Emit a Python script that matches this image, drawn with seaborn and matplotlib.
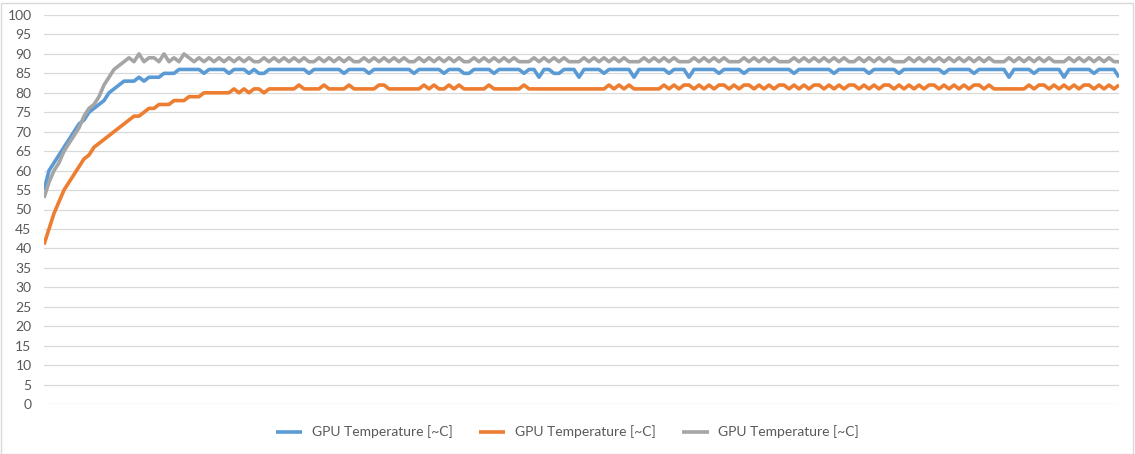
import numpy as np
import pandas as pd
import matplotlib
matplotlib.use("Agg")
import matplotlib.pyplot as plt
import seaborn as sns
from matplotlib.patches import Rectangle

# ---------------- data ----------------
series_label = "GPU Temperature [~C]"
y_ticks = list(range(0, 101, 5))

gray_values = [
    53, 57, 60, 62, 65, 67, 69, 71, 74, 76, 77, 79, 82, 84, 86, 87, 88,
    89, 88, 90, 88, 89, 89, 88, 90, 88, 89, 88, 90, 89, 88, 89,
    88, 89, 88, 89, 88, 89, 88, 89, 88, 89,
    88, 88,
    89, 88, 89, 88, 89, 88, 89, 88, 89,
    88, 88,
    89, 88, 89, 88, 89, 88, 89,
    88, 88,
    89, 88, 89, 88, 89, 88, 89, 88, 89,
    88, 88,
    89, 88, 89, 88, 89, 88, 89, 88, 89,
    88, 88,
    89, 88, 89, 88, 89, 88, 89, 88, 89, 88,
    88, 88,
    89, 88, 89, 88, 89, 88, 89, 88,
    88, 88,
    89, 88, 89, 88, 89, 88, 89, 88, 89, 88,
    88, 88,
    89, 88, 89, 88, 89, 88, 89, 88,
    88, 88,
    89, 88, 89, 88, 89, 88, 89, 88,
    88, 88,
    89, 88, 89, 88, 89, 88, 89, 88,
    88, 88,
    89, 88, 89, 88, 89, 88, 89, 88, 89, 88, 89,
    88, 88,
    89, 88, 89, 88, 89, 88, 89, 88,
    88, 88,
    89, 88, 89, 88, 89, 88, 89, 88, 89, 88, 89, 88, 89, 88, 89, 88, 89, 88,
    88, 88,
    89, 88, 89, 88, 89, 88, 89, 88, 89, 88,
    88, 88,
    89, 88, 89, 88, 89, 88, 89, 88, 89, 88, 88,
]

blue_values = [
    55, 60, 62, 64, 66, 68, 70, 72, 73, 75, 76, 77, 78, 80, 81, 82, 83,
    83, 83, 84, 83, 84, 84, 84, 85, 85, 85, 86, 86, 86, 86, 86,
    85, 86, 86, 86, 86, 85, 86, 86, 86, 85,
    86, 85, 85, 86, 86, 86, 86, 86, 86, 86,
    86, 85, 86, 86, 86, 86, 86, 86, 85, 86,
    86, 86, 86, 85, 86, 86, 86, 86, 86, 86,
    86, 86, 85, 86, 86, 86, 86, 86, 85, 86,
    86, 86, 85, 85, 86, 86, 86, 86, 85, 86,
    86, 86, 86, 86, 85, 86, 86, 84, 86, 86,
    85, 85, 86, 86, 86, 84, 86, 86, 86, 86,
    85, 86, 86, 86, 86, 86, 84, 86, 86, 86,
    86, 86, 86, 85, 86, 86, 86, 84, 86, 86,
    86, 86, 86, 85, 86, 86, 86, 86, 85, 86,
    86, 86, 86, 86, 86, 86, 86, 86, 85, 86,
    86, 86, 86, 86, 86, 86, 85, 86, 86, 86,
    86, 86, 86, 85, 86, 86, 86, 86, 86, 85,
    86, 86, 86, 86, 86, 86, 86, 86, 85, 86,
    86, 86, 86, 86, 85, 86, 86, 86, 86, 86,
    86, 84, 86, 86, 86, 86, 85, 86, 86, 86,
    86, 86, 84, 86, 86, 86, 86, 86, 85, 86,
    86, 86, 86, 84,
]

orange_values = [
    41, 45, 49, 52, 55, 57, 59, 61, 63, 64, 66, 67, 68, 69, 70, 71, 72,
    73, 74, 74, 75, 76, 76, 77, 77, 77, 78, 78, 78, 79, 79, 79,
    80, 80, 80, 80, 80, 80, 81, 80, 81, 80, 81, 81, 80, 81,
    81, 81, 81, 81, 81, 82, 81, 81, 81, 81,
    82, 81, 81, 81, 81, 82, 81, 81, 81, 81,
    81, 82, 82, 81, 81, 81, 81, 81, 81, 81,
    82, 81, 82, 81, 81, 82, 81, 82, 81, 81,
    81, 81, 81, 82, 81, 81, 81, 81, 81, 81,
    82, 81, 81, 81, 81, 81, 81, 81, 81, 81,
    81, 81, 81, 81, 81, 81, 81, 82, 81, 82,
    81, 82, 81, 81, 81, 81, 81, 81, 82, 81,
    82, 81, 82, 82, 81, 82, 81, 82, 81, 82,
    82, 81, 82, 81, 82, 82, 81, 82, 81, 82,
    81, 82, 82, 81, 82, 81, 82, 81, 82, 82,
    81, 82, 81, 82, 81, 82, 82, 81, 82, 81,
    82, 81, 82, 82, 81, 82, 81, 82, 81, 82,
    81, 82, 82, 81, 82, 81, 82, 81, 82, 81,
    82, 82, 81, 82, 81, 81, 81, 81, 81, 81,
    81, 82, 81, 82, 82, 81, 82, 81, 82, 81,
    82, 81, 82, 82, 81, 82, 81, 82, 81, 82,
]

colors = ["#5B9BD5", "#ED7D31", "#A5A5A5"]

# ---------------- plot ----------------
sns.set_style("white")
plt.rcParams["font.family"] = ["Lato", "DejaVu Sans"]

fig = plt.figure(figsize=(11.35, 4.54), dpi=100)
ax = fig.add_axes([44 / 1135, 1 - 404 / 454, (1119 - 44) / 1135, (404 - 15) / 454])

for vals, col in zip([blue_values, orange_values, gray_values], colors):
    df = pd.DataFrame({"t": np.arange(len(vals)), "v": vals})
    sns.lineplot(data=df, x="t", y="v", ax=ax, color=col, linewidth=2.6,
                 label=series_label, solid_joinstyle="round",
                 solid_capstyle="butt")

ax.set_xlim(0, len(gray_values) - 1)
ax.set_ylim(0, 100)
ax.set_yticks(y_ticks)
ax.set_yticklabels([str(t) for t in y_ticks])
ax.set_xticks([])
ax.set_xlabel("")
ax.set_ylabel("")
ax.grid(axis="y", color="#D9D9D9", linewidth=0.9)
ax.set_axisbelow(True)
for s in ax.spines.values():
    s.set_visible(False)
ax.tick_params(axis="y", length=0, pad=9, labelsize=10, labelcolor="#595959")

handles, labels = ax.get_legend_handles_labels()
ax.legend_.remove()
leg = fig.legend(handles, labels, loc="center", bbox_to_anchor=(0.5, 1 - 432 / 454),
                 ncol=3, frameon=False, fontsize=10, handlelength=1.9,
                 handletextpad=0.7, columnspacing=1.9)
for t in leg.get_texts():
    t.set_color("#595959")
for l in leg.get_lines():
    l.set_linewidth(2.6)

fig.patches.append(Rectangle((0.5 / 1135, 0.5 / 454), 1132 / 1135, 451 / 454,
                             transform=fig.transFigure, fill=False,
                             edgecolor="#D9D9D9", linewidth=1.0))

fig.savefig("out.png", dpi=100)
